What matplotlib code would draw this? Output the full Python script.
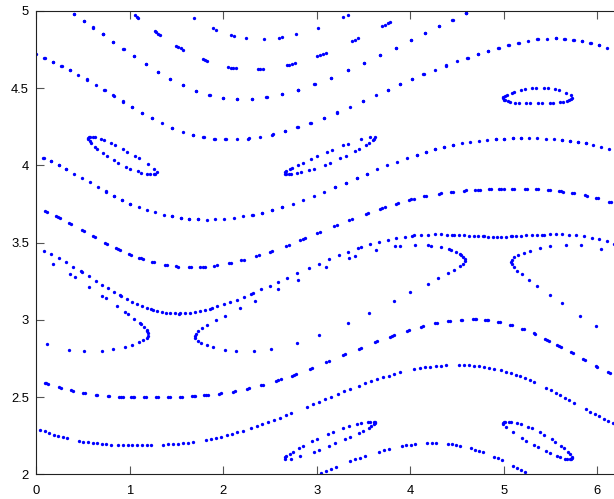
import numpy as np
import matplotlib
matplotlib.use("Agg")
import matplotlib.pyplot as plt

# standard map: p' = p + K sin(theta), theta' = theta + p'  (theta mod 2*pi)
K = 0.5
n_iter = 100

# starting points of the orbits
theta0 = [0.0, 0.0, 0.0, 0.0, 0.0, 0.0, 0.0, 1.29, 2.66, 4.32, 2.15, 2.40, 1.04]
p0 = [4.72, 4.07, 3.73, 3.47, 3.415, 2.615, 2.30, 3.95, 2.10, 2.20, 4.43, 4.82, 4.98]


def orbit(th, p, n):
    ths, ps = [], []
    for _ in range(n):
        p = p + K * np.sin(th)
        th = (th + p) % (2 * np.pi)
        ths.append(th)
        ps.append(p)
    return np.array(ths), np.array(ps)


plt.rcParams['font.family'] = ['Liberation Sans', 'DejaVu Sans']
fig = plt.figure(figsize=(6.14, 4.99), dpi=100)
ax = fig.add_axes([0.0586, 0.0495, 0.9573, 0.9285])

for t, p in zip(theta0, p0):
    xs, ys = orbit(t, p, n_iter)
    ax.plot(xs, ys, 'o', ms=2.4, mew=0, color='#0000ff', linestyle='none')

ax.set_xlim(0, 2 * np.pi)
ax.set_ylim(2, 5)
ax.set_xticks(range(0, 7))
ax.set_yticks([2, 2.5, 3, 3.5, 4, 4.5, 5])
ax.set_yticklabels(['2', '2.5', '3', '3.5', '4', '4.5', '5'])
ax.tick_params(direction='in', length=6, width=0.8, colors='#555555',
               labelcolor='black', labelsize=9.4, top=True, right=True)
ax.tick_params(axis='x', pad=8)
ax.tick_params(axis='y', pad=5)
for s in ax.spines.values():
    s.set_color('#222222')
    s.set_linewidth(0.8)

fig.savefig('out.png', dpi=100)
